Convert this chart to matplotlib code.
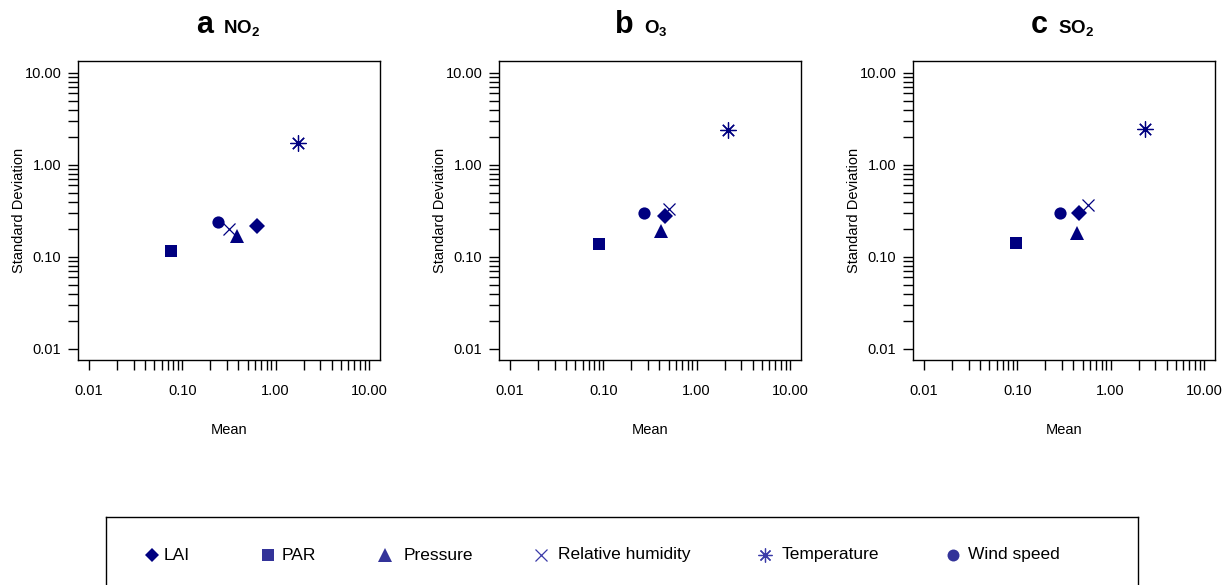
import matplotlib
matplotlib.use("Agg")
import matplotlib.pyplot as plt
from matplotlib.ticker import FixedLocator, FixedFormatter, NullFormatter

plt.rcParams['font.family'] = ['Liberation Sans', 'DejaVu Sans']
plt.rcParams['mathtext.fontset'] = 'custom'
plt.rcParams['mathtext.rm'] = 'Liberation Sans'
plt.rcParams['mathtext.bf'] = 'Liberation Sans:bold'

# variables and the mean / sd for each pollutant
variables = ['LAI', 'PAR', 'Pressure', 'Relative humidity', 'Temperature', 'Wind speed']
no2_mean = [0.63, 0.076, 0.39, 0.32, 1.73, 0.24]
no2_sd = [0.217, 0.115, 0.17, 0.20, 1.72, 0.238]
o3_mean = [0.46, 0.089, 0.415, 0.50, 2.15, 0.273]
o3_sd = [0.28, 0.138, 0.19, 0.33, 2.40, 0.303]
so2_mean = [0.46, 0.096, 0.437, 0.57, 2.34, 0.287]
so2_sd = [0.30, 0.141, 0.18, 0.365, 2.46, 0.303]

panel_letters = ['a', 'b', 'c']
panel_gases = [r'$\mathbf{NO_2}$', r'$\mathbf{O_3}$', r'$\mathbf{SO_2}$']
panel_means = [no2_mean, o3_mean, so2_mean]
panel_sds = [no2_sd, o3_sd, so2_sd]

major_ticks = [0.01, 0.1, 1.0, 10.0]
major_labels = ['0.01', '0.10', '1.00', '10.00']
minor_ticks = [k * 10.0 ** d for d in (-2, -1, 0) for k in range(2, 10)]

# marker styles per variable (R pch 18, 15, 17, 4, 8, 16)
markers = ['D', 's', '^', 'x', (8, 2, 0), 'o']
sizes = [8.2, 8, 10, 8.6, 11.5, 8.8]
col = '#000080'

W, H = 1226, 585
fig = plt.figure(figsize=(W / 100, H / 100), dpi=100)

lefts = [78, 499, 913]
for i in range(3):
    ax = fig.add_axes([lefts[i] / W, 1 - 360 / H, 302 / W, 299 / H])
    for j, v in enumerate(variables):
        m = markers[j]
        if m in ('x', (8, 2, 0)):
            ax.plot(panel_means[i][j], panel_sds[i][j], marker=m, ms=sizes[j],
                    color=col, mew=0.9, ls='none')
        else:
            ax.plot(panel_means[i][j], panel_sds[i][j], marker=m, ms=sizes[j],
                    color=col, mec=col, mew=0, ls='none')
    ax.set_xscale('log')
    ax.set_yscale('log')
    ax.set_xlim(10 ** -2.118, 10 ** 1.119)
    ax.set_ylim(10 ** -2.12, 10 ** 1.13)
    for axis in (ax.xaxis, ax.yaxis):
        axis.set_major_locator(FixedLocator(major_ticks))
        axis.set_major_formatter(FixedFormatter(major_labels))
        axis.set_minor_locator(FixedLocator(minor_ticks))
        axis.set_minor_formatter(NullFormatter())
    ax.tick_params(which='both', direction='out', length=7, width=1.0, color='black')
    ax.tick_params(axis='x', which='major', labelsize=10.5, pad=10)
    ax.tick_params(axis='y', which='major', labelsize=10.5, pad=5)
    for s in ax.spines.values():
        s.set_linewidth(1.0)
    ax.set_xlabel('Mean', fontsize=10.5, labelpad=18)
    ax.set_ylabel('Standard Deviation', fontsize=10.5, labelpad=-1)
    ax.text(0.447, 1.094, panel_letters[i], transform=ax.transAxes, ha='right',
            va='baseline', fontsize=22, fontweight='bold')
    ax.text(0.48, 1.094, panel_gases[i], transform=ax.transAxes, ha='left',
            va='baseline', fontsize=13.5)

# legend box at the bottom, laid out like the R horizontal legend
lax = fig.add_axes([106 / W, -12 / H, (1138 - 106) / W, (585 + 12 - 517) / H])
lax.set_xlim(106, 1138)
lax.set_ylim(597, 517)
lax.set_xticks([])
lax.set_yticks([])
for s in lax.spines.values():
    s.set_linewidth(1.0)
leg_marker_x = [152, 268, 385, 541, 765, 953]
leg_text_x = [164, 282, 404, 558, 782, 968]
leg_cols = ['#000080', '#333399', '#333399', '#3a3aa8', '#3a3aa8', '#333399']
leg_sizes = [7.4, 8, 9.5, 8, 10, 8.6]
for j, v in enumerate(variables):
    m = markers[j]
    if m in ('x', (8, 2, 0)):
        lax.plot(leg_marker_x[j], 555, marker=m, ms=leg_sizes[j], color=leg_cols[j],
                 mew=0.9, ls='none')
    else:
        lax.plot(leg_marker_x[j], 555, marker=m, ms=leg_sizes[j], color=leg_cols[j],
                 mew=0, ls='none')
    lax.text(leg_text_x[j], 555, v, ha='left', va='center', fontsize=12.5)

fig.savefig('out.png', dpi=100)
